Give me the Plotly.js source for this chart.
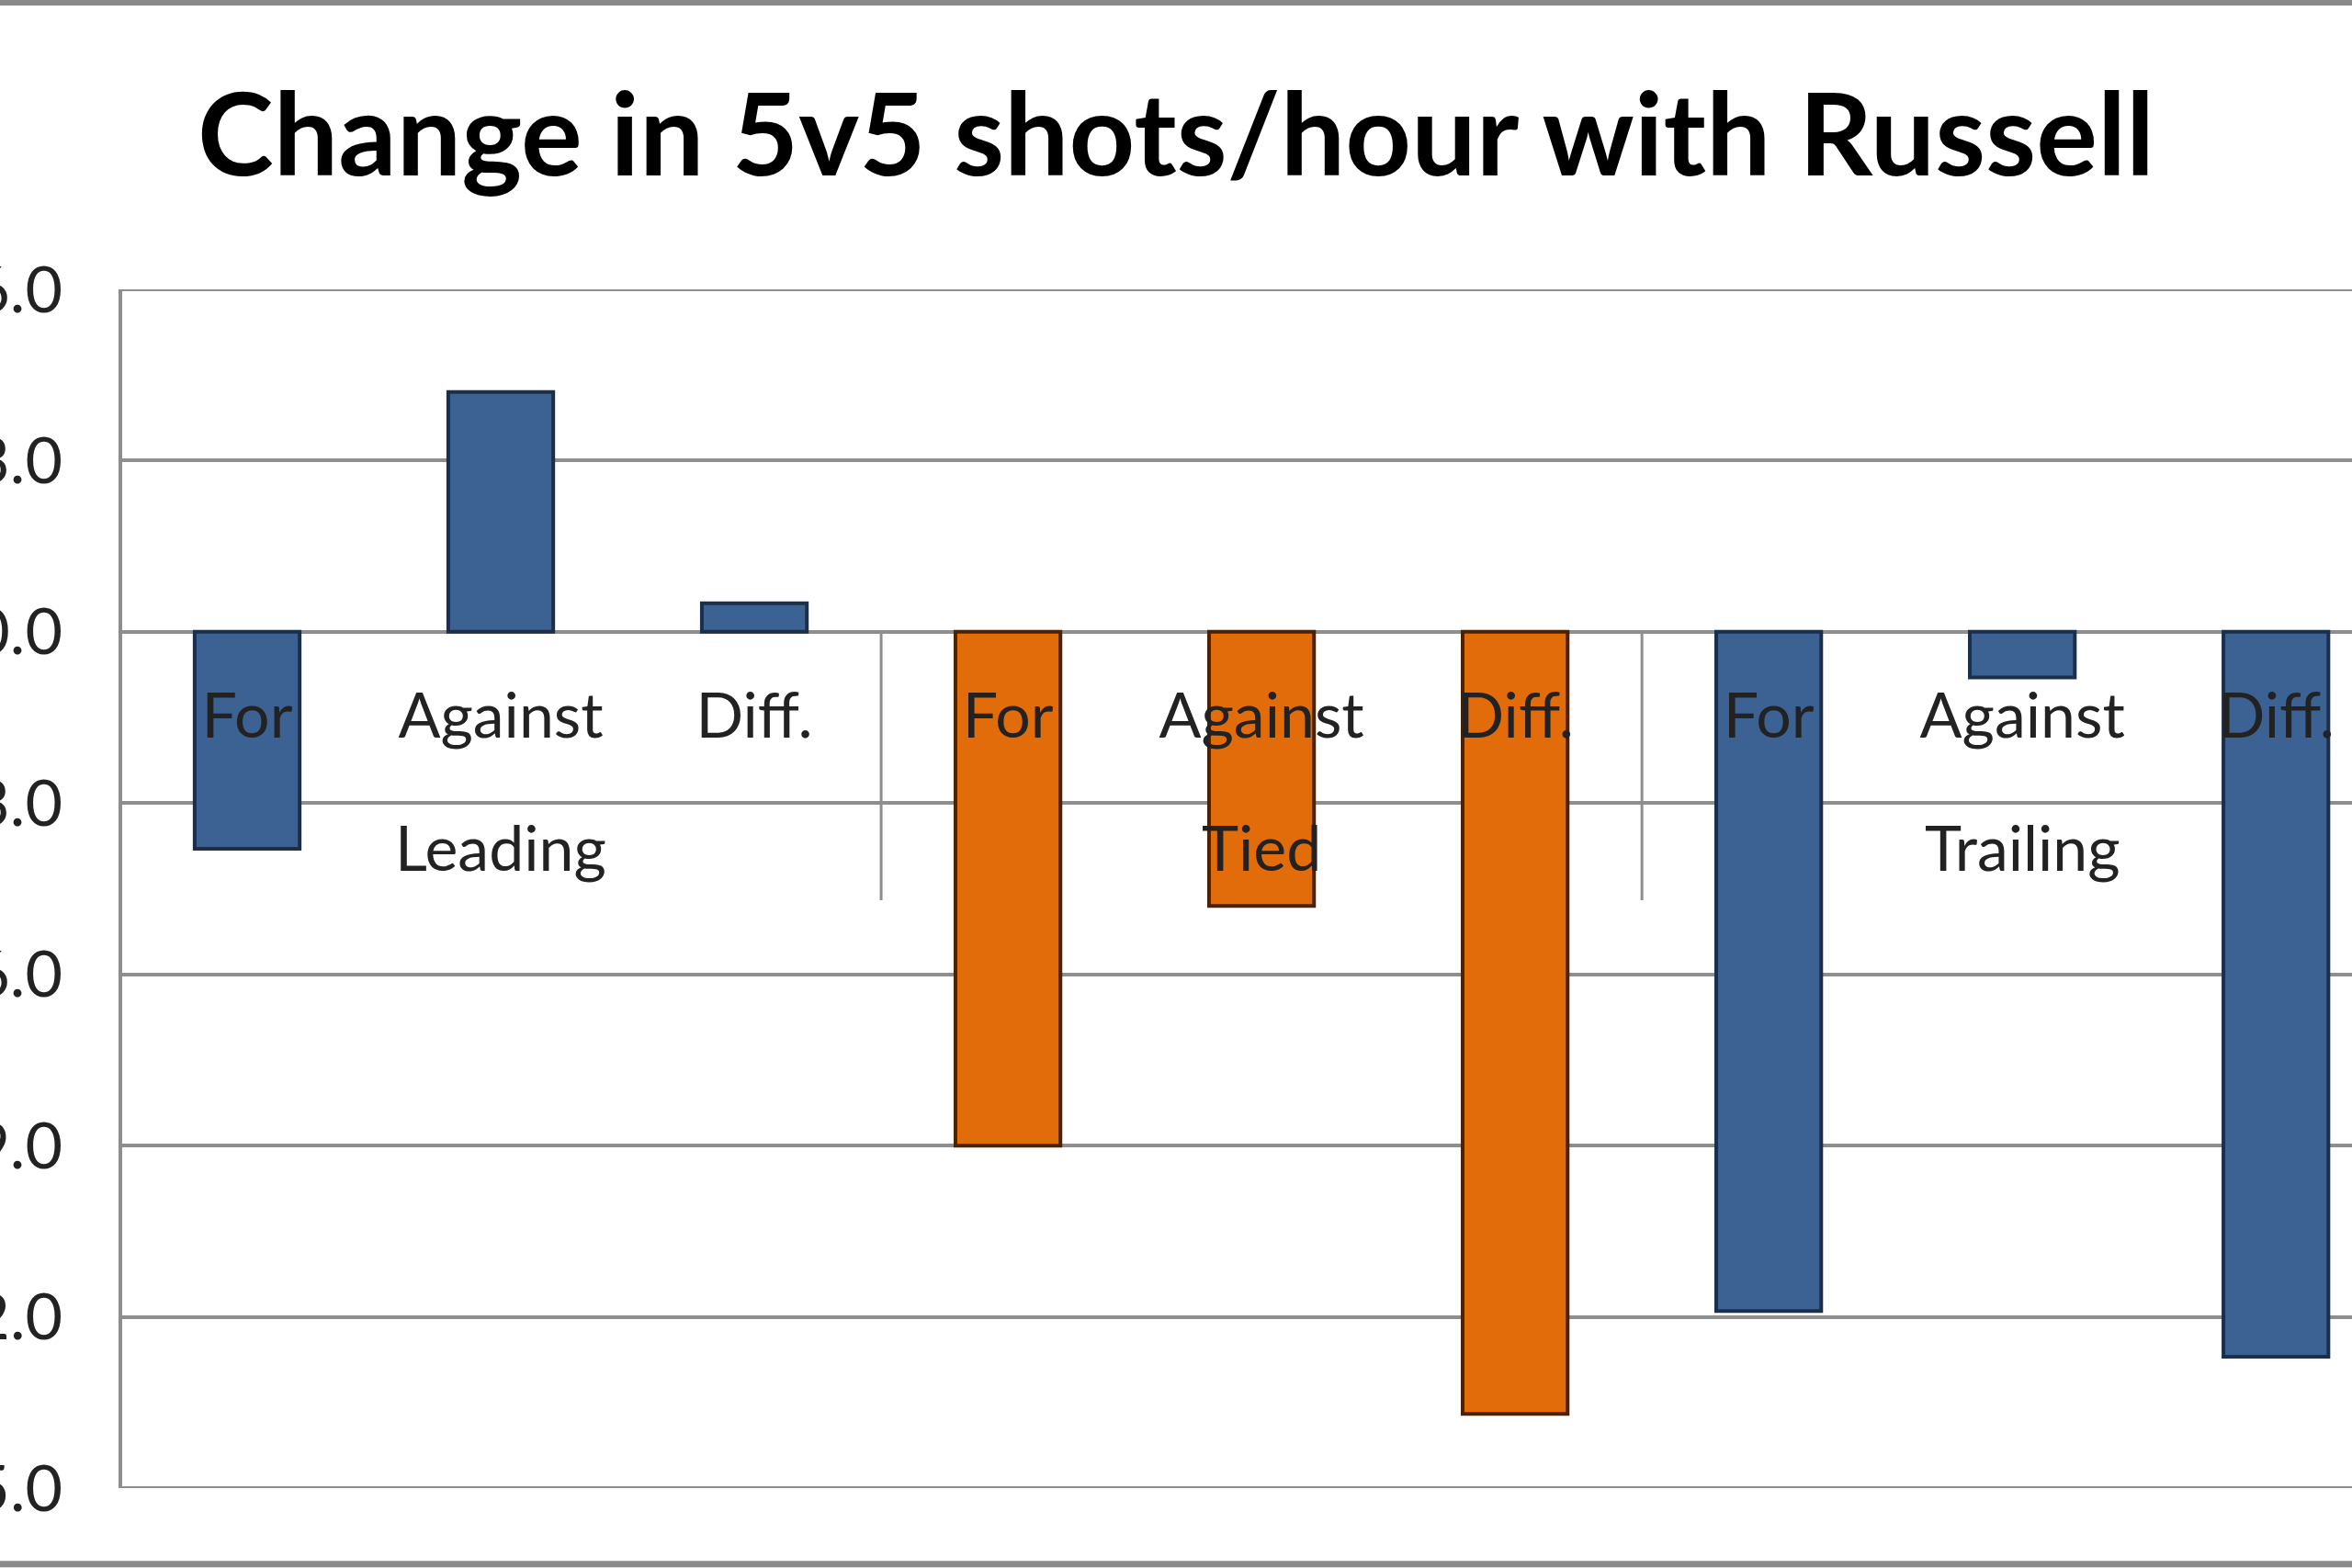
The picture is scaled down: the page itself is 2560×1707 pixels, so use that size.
<!DOCTYPE html>
<html>
<head>
<meta charset="utf-8">
<script src="https://cdn.plot.ly/plotly-3.0.1.min.js"></script>
<style>html,body{margin:0;padding:0;background:#fff;overflow:hidden;}#chart{width:2560px;height:1707px;}</style>
</head>
<body>
<div id="chart"></div>
<script>
// Data
const groups = ["Leading", "Tied", "Trailing"];
const subcategories = ["For", "Against", "Diff."];
const leadingValues = [-3.8, 4.2, 0.5];
const tiedValues = [-9.0, -4.8, -13.7];
const trailingValues = [-11.9, -0.8, -12.7];
const groupColors = ["#3B6293", "#E36C0A", "#3B6293"];
const groupLineColors = ["#1B2F4A", "#4A2206", "#1B2F4A"];
const yTickValues = [6, 3, 0, -3, -6, -9, -12, -15];

const groupValues = [leadingValues, tiedValues, trailingValues];
const xs = [], ys = [], tickText = [], colors = [], lineColors = [];
groupValues.forEach((vals, g) => {
  vals.forEach((v, i) => {
    xs.push(g * subcategories.length + i);
    ys.push(v);
    tickText.push(subcategories[i]);
    colors.push(groupColors[g]);
    lineColors.push(groupLineColors[g]);
  });
});

const gridColor = "#8E8E8E";
const font = "Lato, 'Open Sans', sans-serif";

const trace = {
  type: "bar",
  x: xs,
  y: ys,
  marker: {color: colors, line: {color: lineColors, width: 4}},
  width: 0.414,
  hoverinfo: "x+y"
};

const yMin = -15, yMax = 6;
const annotations = groups.map((g, k) => ({
  text: g,
  x: k * subcategories.length + 1,
  xref: "x",
  y: -3.76,
  yref: "y",
  showarrow: false,
  xanchor: "center",
  yanchor: "middle",
  font: {family: font, size: 68, color: "#222"}
}));

const shapes = [];
// top and bottom plot-area edges (grid at range ends)
[yMax, yMin].forEach(v => shapes.push({type: "line", xref: "paper", yref: "y",
  x0: 0, x1: 1, y0: v, y1: v, line: {color: gridColor, width: 4}}));
for (let k = 1; k < groups.length; k++) {
  shapes.push({type: "line", xref: "x", yref: "y",
    x0: k * subcategories.length - 0.5, x1: k * subcategories.length - 0.5,
    y0: 0, y1: -4.7, line: {color: gridColor, width: 3}});
}
// outer chart border (top and bottom)
shapes.push({type: "line", xref: "paper", yref: "paper", x0: -0.06, x1: 1.01, y0: 1.2395, y1: 1.2395, line: {color: "#8A8A8A", width: 7}});
shapes.push({type: "line", xref: "paper", yref: "paper", x0: -0.06, x1: 1.01, y0: -0.0635, y1: -0.0635, line: {color: "#8A8A8A", width: 7}});
// left plot-area edge
shapes.push({type: "line", xref: "paper", yref: "paper", x0: 0, x1: 0, y0: 0, y1: 1, line: {color: gridColor, width: 4}});

const layout = {
  width: 2560,
  height: 1707,
  margin: {l: 131, r: 0, t: 315, b: 87, pad: 0},
  paper_bgcolor: "#fff",
  plot_bgcolor: "#fff",
  showlegend: false,
  bargap: 0.586,
  title: {
    text: "<b>Change in 5v5 shots/hour with Russell</b>",
    x: 0.5, xanchor: "center",
    y: 1 - 147 / 1707, yanchor: "middle",
    yref: "container",
    font: {family: font, size: 125, color: "#000"}
  },
  xaxis: {
    range: [-0.5, 8.3],
    tickmode: "array",
    tickvals: xs,
    ticktext: tickText,
    anchor: "free",
    position: (0 - yMin) / (yMax - yMin),
    showline: false,
    showgrid: false,
    zeroline: false,
    ticks: "",
    ticklabelstandoff: 46,
    automargin: false,
    tickfont: {family: font, size: 68, color: "#222"},
    fixedrange: true
  },
  yaxis: {
    range: [yMin, yMax],
    tickmode: "array",
    tickvals: yTickValues,
    tickformat: ".1f",
    showgrid: true,
    gridcolor: gridColor,
    gridwidth: 4,
    zeroline: true,
    zerolinecolor: gridColor,
    zerolinewidth: 4,
    showline: false,
    ticks: "",
    ticklabelstandoff: 62,
    automargin: false,
    tickfont: {family: font, size: 70, color: "#222"},
    fixedrange: true
  },
  shapes: shapes,
  annotations: annotations
};

Plotly.newPlot("chart", [trace], layout, {displayModeBar: false, staticPlot: true});
</script>
</body>
</html>
